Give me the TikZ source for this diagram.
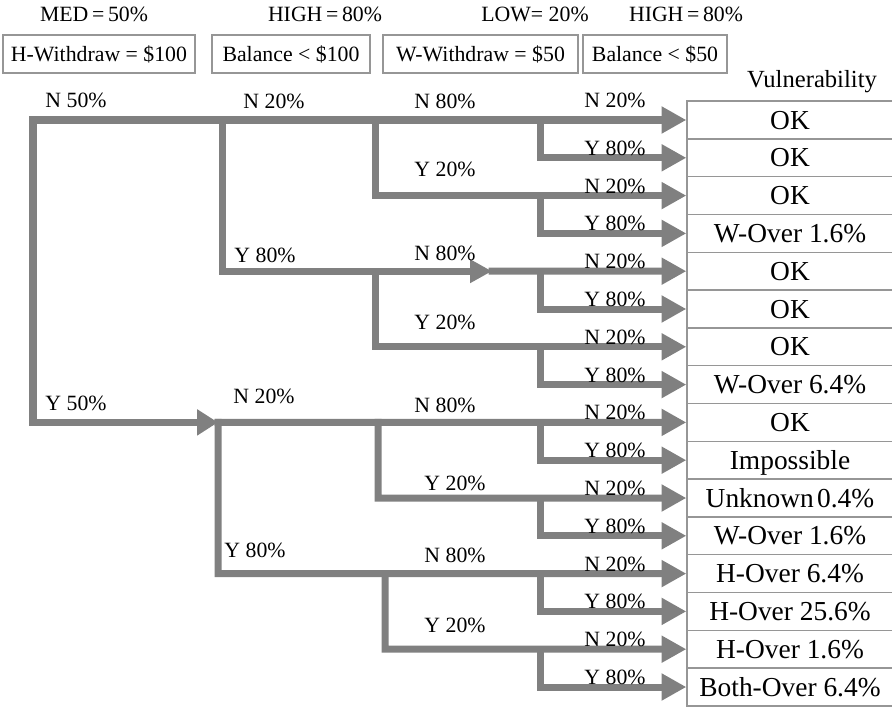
\documentclass[tikz,border=0pt]{standalone}
\usepackage{fontspec}
\setmainfont{Liberation Serif}
\usetikzlibrary{arrows.meta}
\definecolor{branchgray}{RGB}{128,128,128}
\definecolor{rulegray}{RGB}{150,150,150}

\begin{document}
\begin{tikzpicture}[x=0.025cm,y=-0.025cm,
  branch/.style={draw=branchgray, line width=1.75mm, line join=miter, line cap=rect},
  tipped/.style={branch, -{Triangle[length=6.2mm,width=6.4mm]}},
  lbl/.style={font=\fontsize{15.5}{18}\selectfont, inner sep=0pt, anchor=base},
  condbox/.style={draw=rulegray, line width=0.9pt, minimum height=0.95cm, inner sep=0pt,
                  font=\fontsize{15.5}{18}\selectfont},
  leaf/.style={draw=rulegray, line width=0.9pt, minimum width=5.15cm, minimum height=0.945cm,
               inner sep=0pt, text height=12.9pt, text depth=0pt,
               font=\fontsize{19.5}{22}\selectfont}]
\useasboundingbox (0,0) rectangle (892,709);

% headers: probabilities and tested conditions
\node[lbl] (p1) at (94,22)  {MED\,=\,50\%};
\node[lbl] (p2) at (325,22) {HIGH\,=\,80\%};
\node[lbl] (p3) at (535,22) {LOW= 20\%};
\node[lbl] (p4) at (686,22) {HIGH\,=\,80\%};
\node[condbox, minimum width=4.8cm]   (c1) at (99,54)    {H-Withdraw = \$100};
\node[condbox, minimum width=3.95cm]  (c2) at (291,54)   {Balance < \$100};
\node[condbox, minimum width=4.875cm] (c3) at (480.5,54) {W-Withdraw = \$50};
\node[condbox, minimum width=3.6cm]   (c4) at (655,54)   {Balance < \$50};

% outcome column
\node[lbl, font=\fontsize{17.5}{20}\selectfont] (vul) at (812,88) {Vulnerability};
\foreach \t [count=\i from 0] in {OK,OK,OK,W-Over 1.6\%,OK,OK,OK,W-Over 6.4\%,OK,Impossible,
    Unknown\hspace{0.12em}0.4\%,W-Over 1.6\%,H-Over 6.4\%,H-Over 25.6\%,H-Over 1.6\%,Both-Over 6.4\%}{
  \node[leaf] (v\i) at (790,120+37.8*\i) {\t};
}

% junction points of the tree
\coordinate (r0) at (33,120);   \coordinate (r1) at (33,422.4);
\coordinate (a0) at (222,120);  \coordinate (a1) at (222,271.2);
\coordinate (b0) at (218,422.4);\coordinate (b1) at (218,573.6);
\coordinate (m4) at (492,271.2);
\coordinate (q0) at (375,120);  \coordinate (q1) at (375,195.6);
\coordinate (q2) at (375,271.2);\coordinate (q3) at (375,346.8);
\coordinate (q4) at (378,422.4);\coordinate (q5) at (378,498);
\coordinate (q6) at (385,573.6);\coordinate (q7) at (385,649.2);
\foreach \k in {0,2,...,14}{
  \coordinate (d\k) at (540,120+37.8*\k);
  \coordinate (e\k) at (540,120+37.8*\k+37.8);
}

% branches
\draw[branch, {Triangle[length=5.2mm,width=6.2mm]}-{Triangle[length=6.2mm,width=6.4mm]}]
  (b0) -- (r1) -- (r0) -- (v0.west);
\draw[tipped] (b0) -- (v8.west);
\draw[branch, -{Triangle[length=5.5mm,width=5.6mm]}] (a0) -- (a1) -- (m4);
\draw[tipped] (m4) -- (v4.west);
\draw[tipped] (b0) -- (b1) -- (v12.west);
\draw[tipped] (q0) -- (q1) -- (v2.west);
\draw[tipped] (q2) -- (q3) -- (v6.west);
\draw[tipped] (q4) -- (q5) -- (v10.west);
\draw[tipped] (q6) -- (q7) -- (v14.west);
\foreach \k [evaluate=\k as \n using int(\k+1)] in {0,2,...,14}{
  \draw[tipped] (d\k) -- (e\k) -- (v\n.west);
}

% branch labels
\node[lbl] (l1a) at (76,108) {N 50\%};
\node[lbl] (l1b) at (76,410) {Y 50\%};
\node[lbl] (l2a) at (274,109) {N 20\%};
\node[lbl] (l2b) at (265,262) {Y 80\%};
\node[lbl] (l2c) at (264,403) {N 20\%};
\node[lbl] (l2d) at (255,557) {Y 80\%};
\node[lbl] (l3a) at (445,109) {N 80\%};
\node[lbl] (l3b) at (445,177) {Y 20\%};
\node[lbl] (l3c) at (445,260) {N 80\%};
\node[lbl] (l3d) at (445,329) {Y 20\%};
\node[lbl] (l3e) at (445,412) {N 80\%};
\node[lbl] (l3f) at (455,490) {Y 20\%};
\node[lbl] (l3g) at (455,562) {N 80\%};
\node[lbl] (l3h) at (455,632) {Y 20\%};
\node[lbl] (l4n0) at (615,108) {N 20\%};
\foreach \k in {2,4,...,14}{
  \node[lbl] (l4n\k) at (615,120+37.8*\k-2.5) {N 20\%};
}
\foreach \k in {1,3,...,15}{
  \node[lbl] (l4y\k) at (615,120+37.8*\k-2.5) {Y 80\%};
}
\end{tikzpicture}
\end{document}
